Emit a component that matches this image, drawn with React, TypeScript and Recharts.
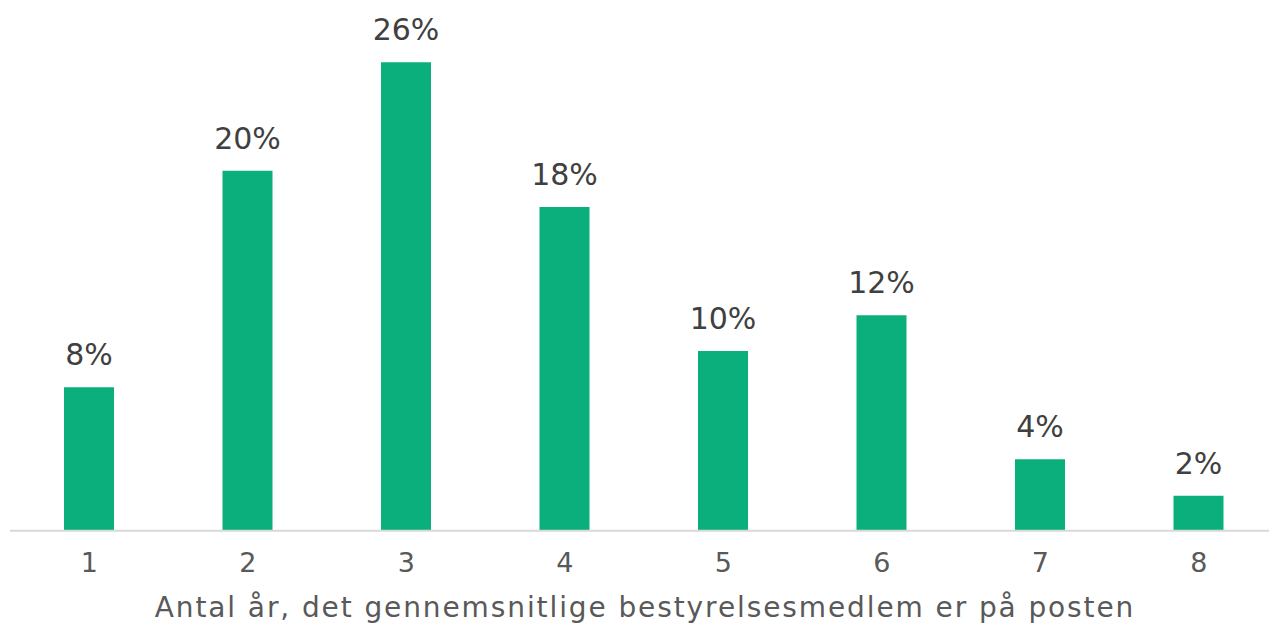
import React from "react";
import { BarChart, Bar, XAxis, YAxis, LabelList } from "recharts";

const categories = ["1", "2", "3", "4", "5", "6", "7", "8"];
const shares = [7.97, 20.0, 26.02, 17.98, 9.98, 11.97, 3.97, 1.94];
const axisTitle = "Antal år, det gennemsnitlige bestyrelsesmedlem er på posten";

const data = categories.map((c, i) => ({ cat: c, value: shares[i] }));

const FONT = "'DejaVu Sans', sans-serif";

export default function App() {
  return (
    <div style={{ position: "absolute", left: 0, top: 0, width: 1269, height: 626, overflow: "hidden", background: "#fff" }}>
      <BarChart
        width={1278}
        height={626}
        data={data}
        margin={{ top: 26.7, right: 0, bottom: 0, left: 10 }}
        barCategoryGap={0}
      >
        <XAxis
          dataKey="cat"
          height={95.3}
          tickLine={false}
          tickSize={0}
          tickMargin={22}
          axisLine={{ stroke: "#d9d9d9", strokeWidth: 2 }}
          tick={{ fill: "#595959", fontSize: 27, fontFamily: FONT }}
          label={{
            value: axisTitle,
            position: "insideBottom",
            offset: 9.3,
            fill: "#595959",
            fontSize: 28,
            fontFamily: FONT,
            letterSpacing: 1.9,
            dx: 1,
          }}
        />
        <YAxis hide domain={[0, 28]} />
        <Bar dataKey="value" fill="#0aaf7b" barSize={50} isAnimationActive={false}>
          <LabelList
            dataKey="value"
            position="top"
            offset={22}
            formatter={(v: number) => `${Math.round(v)}%`}
            style={{ fill: "#404040", fontSize: 30, fontFamily: FONT }}
          />
        </Bar>
      </BarChart>
    </div>
  );
}
